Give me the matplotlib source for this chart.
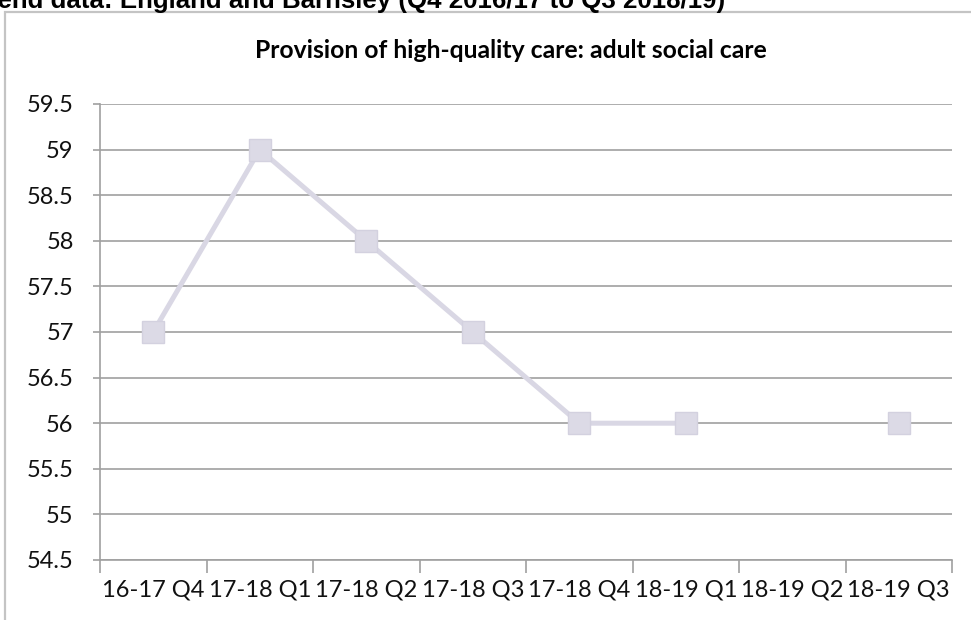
import matplotlib.pyplot as plt
import numpy as np
from matplotlib.patches import Rectangle

quarters = ["16-17 Q4", "17-18 Q1", "17-18 Q2", "17-18 Q3",
            "17-18 Q4", "18-19 Q1", "18-19 Q2", "18-19 Q3"]
values = [57, 59, 58, 57, 56, 56, np.nan, 56]

lab_font = ['Lato', 'DejaVu Sans']

fig = plt.figure(figsize=(9.71, 6.2), dpi=100)
ax = fig.add_axes([100 / 971, 1 - 560 / 620, 852 / 971, 456 / 620])

# chart frame (open at the right / bottom like the cropped screenshot)
fig.patches.append(Rectangle((5 / 971, -0.1), 1.2, 1 - 12 / 620 + 0.1,
                             transform=fig.transFigure, fill=False,
                             edgecolor='#c4c4c4', linewidth=1.6))

x = np.arange(len(quarters)) + 0.5
ax.plot(x, values, color='#d9d7e4', linewidth=3.6, marker='s',
        markersize=15.8, markerfacecolor='#dcdae6', markeredgecolor='#d3d1df',
        markeredgewidth=1, solid_joinstyle='miter', zorder=3)

ax.set_xlim(0, len(quarters))
ax.set_ylim(54.5, 59.5)
yt = np.arange(54.5, 59.51, 0.5)
ax.set_yticks(yt)
ax.set_yticklabels(['%g' % v for v in yt], fontsize=17, family=lab_font, color='#111111')
ax.yaxis.grid(True, color='#a0a0a0', linewidth=1.2)
ax.set_axisbelow(True)

ax.set_xticks(np.arange(len(quarters) + 1))
ax.set_xticklabels([])
ax.set_xticks(x, minor=True)
ax.set_xticklabels(quarters, minor=True, fontsize=17, family=lab_font, color='#111111')
ax.tick_params(axis='x', which='major', length=9, color='#a0a0a0', width=1.2)
ax.tick_params(axis='x', which='minor', length=0, pad=14)
ax.tick_params(axis='y', length=5, color='#a0a0a0', width=1.2, pad=14)

for s in ['top', 'right']:
    ax.spines[s].set_visible(False)
for s in ['left', 'bottom']:
    ax.spines[s].set_color('#a0a0a0')
    ax.spines[s].set_linewidth(1.2)

fig.text(511 / 971, 1 - 58 / 620, "Provision of high-quality care: adult social care",
         ha='center', va='baseline', fontsize=17.8, fontweight='bold', family=lab_font)

fig.text(725 / 971, 1 - 8 / 620,
         "Trend data: England and Barnsley (Q4 2016/17 to Q3 2018/19)",
         ha='right', va='baseline', fontsize=18.6, fontweight='bold',
         family=['Liberation Sans', 'DejaVu Sans'])

fig.savefig('out.png', dpi=100)
